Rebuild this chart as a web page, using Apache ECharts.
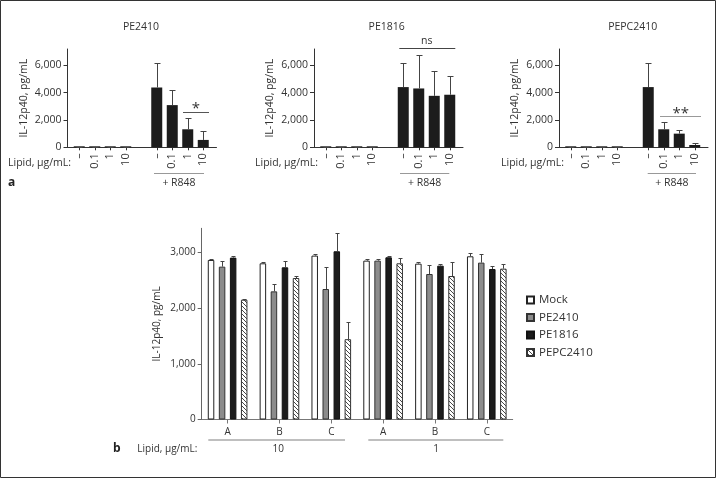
<!DOCTYPE html>
<html>
<head>
<meta charset="utf-8">
<script src="https://cdn.jsdelivr.net/npm/echarts@6/dist/echarts.min.js"></script>
<style>
  html, body { margin: 0; padding: 0; background: #fff; }
  #main { width: 716px; height: 478px; }
</style>
</head>
<body>
<div id="main"></div>
<script>
// ---- panel a data: 4 lipid doses alone, then the same 4 doses + R848 ----
var lipidDoses = ['–', '0.1', '1', '10'];
var pe2410Mean   = [25, 25, 25, 25, 4380, 3090, 1320, 540];
var pe2410Err    = [25, 25, 25, 25, 1800, 1120, 860, 640];
var pe1816Mean   = [25, 25, 25, 25, 4410, 4310, 3770, 3850];
var pe1816Err    = [25, 25, 25, 25, 1770, 2430, 1840, 1390];
var pepc2410Mean = [25, 25, 25, 25, 4410, 1320, 1000, 170];
var pepc2410Err  = [25, 25, 25, 25, 1770, 560, 270, 120];
var yTicksA = [0, 2000, 4000, 6000];

// ---- panel b data ----
var groupsB = ['A', 'B', 'C', 'A', 'B', 'C'];
var seriesNamesB = ['Mock', 'PE2410', 'PE1816', 'PEPC2410'];
var mockMean   = [2862, 2802, 2940, 2850, 2796, 2928];
var mockErr    = [18, 24, 36, 24, 30, 54];
var pe2410BMean = [2742, 2299, 2341, 2850, 2610, 2814];
var pe2410BErr  = [102, 131, 389, 24, 168, 156];
var pe1816BMean = [2904, 2730, 3018, 2910, 2760, 2700];
var pe1816BErr  = [30, 120, 330, 24, 24, 60];
var pepcBMean   = [2149, 2538, 1441, 2802, 2574, 2706];
var pepcBErr    = [12, 36, 312, 96, 252, 84];
var yTicksB = [0, 1000, 2000, 3000];

var FONT = '"Open Sans", "Noto Sans", sans-serif';
var TXT = '#333';

function fmt(v) { return String(v).replace(/\B(?=(\d{3})+(?!\d))/g, ','); }

// 4 doses, empty spacer, 4 doses
var catsA = lipidDoses.concat(['']).concat(lipidDoses);
function withGap(arr) { return arr.slice(0, 4).concat([null]).concat(arr.slice(4)); }
function errData(mean, err) {
  var out = [];
  withGap(mean).forEach(function (m, i) {
    if (m == null) return;
    var j = i < 4 ? i : i - 1;
    out.push([i, m, err[j]]);
  });
  return out;
}

function errRender(offset, capW) {
  return function (params, api) {
    var x = api.value(0), y = api.value(1), e = api.value(2);
    var p0 = api.coord([x, y]);
    var p1 = api.coord([x, y + e]);
    var cx = Math.round(p0[0] + offset) + 0.5;
    var ty = Math.round(p1[1]) + 0.5;
    var st = { stroke: '#444', lineWidth: 1 };
    return {
      type: 'group',
      children: [
        { type: 'line', shape: { x1: cx, y1: p0[1], x2: cx, y2: ty }, style: st },
        { type: 'line', shape: { x1: cx - capW / 2, y1: ty, x2: cx + capW / 2, y2: ty }, style: st }
      ]
    };
  };
}

function hatch() {
  var c = document.createElement('canvas');
  c.width = 4; c.height = 4;
  var g = c.getContext('2d');
  g.fillStyle = '#fff'; g.fillRect(0, 0, 4, 4);
  g.strokeStyle = '#333'; g.lineWidth = 0.9;
  g.beginPath();
  g.moveTo(0, 0); g.lineTo(4, 4);
  g.moveTo(3, -1); g.lineTo(5, 1);
  g.moveTo(-1, 3); g.lineTo(1, 5);
  g.stroke();
  return c;
}

var grids = [], xAxes = [], yAxes = [], series = [], graphics = [];

var panelA = [
  { name: 'PE2410', mean: pe2410Mean, err: pe2410Err },
  { name: 'PE1816', mean: pe1816Mean, err: pe1816Err },
  { name: 'PEPC2410', mean: pepc2410Mean, err: pepc2410Err }
];
var axisXs = [67.5, 314, 559];
var topA = 49, hA = 98.3, maxA = 7200;

panelA.forEach(function (p, k) {
  var x0 = axisXs[k];
  var gf = grids.length;
  // frame grid: axis lines and y labels
  grids.push({ left: x0, top: topA, width: 149, height: hA, outerBoundsMode: 'none' });
  xAxes.push({ gridIndex: gf, type: 'value', min: 0, max: 1,
    axisLine: { show: true, lineStyle: { color: '#333' } },
    axisTick: { show: false }, axisLabel: { show: false }, splitLine: { show: false } });
  yAxes.push({ gridIndex: gf, type: 'value', min: 0, max: maxA,
    name: 'IL-12p40, pg/mL', nameLocation: 'middle', nameGap: 38,
    nameTextStyle: { fontSize: 10.5, color: TXT, fontFamily: FONT },
    axisLine: { show: true, lineStyle: { color: '#333' } },
    axisTick: { show: true, length: 4, customValues: yTicksA, lineStyle: { color: '#333' } },
    axisLabel: { customValues: yTicksA, formatter: fmt, margin: 6, fontSize: 10.5, color: TXT, fontFamily: FONT },
    splitLine: { show: false } });
  // bar grid
  var gb = grids.length;
  grids.push({ left: x0 + 4, top: topA, width: 139.5, height: hA, outerBoundsMode: 'none' });
  xAxes.push({ gridIndex: gb, type: 'category', data: catsA,
    axisLine: { show: false },
    axisTick: { show: true, alignWithLabel: true, length: 3, lineStyle: { color: '#333' },
      interval: function (i, v) { return v !== ''; } },
    axisLabel: { rotate: 90, interval: 0, margin: 6, fontSize: 11, color: TXT, fontFamily: FONT } });
  yAxes.push({ gridIndex: gb, type: 'value', min: 0, max: maxA, show: false });
  series.push({ type: 'bar', xAxisIndex: gb, yAxisIndex: gb, data: withGap(p.mean),
    barWidth: 11, barMinHeight: 1, itemStyle: { color: '#1c1c1c' }, silent: true });
  series.push({ type: 'custom', xAxisIndex: gb, yAxisIndex: gb, z: 3,
    data: errData(p.mean, p.err), renderItem: errRender(0, 6), silent: true });
});

// ---- panel b ----
var gB = grids.length;
grids.push({ left: 201.7, top: 228.3, width: 311, height: 191.2, outerBoundsMode: 'none' });
xAxes.push({ gridIndex: gB, type: 'category', data: groupsB,
  axisLine: { show: true, lineStyle: { color: '#777' } },
  axisTick: { show: true, alignWithLabel: true, length: 4, lineStyle: { color: '#777' } },
  axisLabel: { margin: 8, fontSize: 10, color: TXT, fontFamily: FONT } });
yAxes.push({ gridIndex: gB, type: 'value', min: 0, max: 3430,
  name: 'IL-12p40, pg/mL', nameLocation: 'middle', nameGap: 40,
  nameTextStyle: { fontSize: 10, color: TXT, fontFamily: FONT },
  axisLine: { show: true, lineStyle: { color: '#666' } },
  axisTick: { show: true, length: 4, customValues: yTicksB, lineStyle: { color: '#666' } },
  axisLabel: { customValues: yTicksB, formatter: fmt, margin: 6, fontSize: 10, color: TXT, fontFamily: FONT },
  splitLine: { show: false } });

var bMeans = [mockMean, pe2410BMean, pe1816BMean, pepcBMean];
var bErrs = [mockErr, pe2410BErr, pe1816BErr, pepcBErr];
var bFills = ['#ffffff', '#8c8c8c', '#1c1c1c', { image: hatch(), repeat: 'repeat' }];
var bBorders = ['#222', '#333', '#111', '#333'];
var barW = 6.5, gapRatio = 0.7;
bMeans.forEach(function (m, k) {
  series.push({ name: seriesNamesB[k], type: 'bar', xAxisIndex: gB, yAxisIndex: gB, data: m,
    barWidth: barW, barGap: (gapRatio * 100) + '%',
    itemStyle: { color: bFills[k], borderColor: bBorders[k], borderWidth: 1 }, silent: true });
  var off = (k - 1.5) * barW * (1 + gapRatio);
  series.push({ type: 'custom', xAxisIndex: gB, yAxisIndex: gB, z: 3,
    data: m.map(function (v, i) { return [i, v, bErrs[k][i]]; }),
    renderItem: errRender(off, 4), silent: true });
});

// ---- annotations ----
function txt(s, x, y, opt) {
  opt = opt || {};
  return { type: 'text', x: x, y: y, silent: true,
    style: { text: s, fill: opt.color || TXT, fontSize: opt.size || 10.5, fontFamily: FONT,
      fontWeight: opt.weight || 'normal',
      align: opt.align || 'center', textAlign: opt.align || 'center',
      verticalAlign: 'middle', textVerticalAlign: 'middle' } };
}
function ln(x1, y1, x2, y2, color, w) {
  return { type: 'line', silent: true, shape: { x1: x1, y1: y1, x2: x2, y2: y2 },
    style: { stroke: color || '#999', lineWidth: w || 1 } };
}

graphics.push({ type: 'rect', silent: true, shape: { x: 0.5, y: 0.5, width: 715, height: 477 },
  style: { fill: 'none', stroke: '#333', lineWidth: 1 } });

var titleXs = [141, 386.7, 632.7];
var lipidXs = [8, 255, 501];
var r848 = [[154, 204], [400, 449.3], [647.7, 696]];
panelA.forEach(function (p, k) {
  graphics.push(txt(p.name, titleXs[k], 27));
  graphics.push(txt('Lipid, µg/mL:', lipidXs[k], 162.7, { align: 'left' }));
  graphics.push(ln(r848[k][0], 173.5, r848[k][1], 173.5, '#999'));
  graphics.push(txt('+ R848', (r848[k][0] + r848[k][1]) / 2, 183));
});
graphics.push(txt('a', 8, 183, { align: 'left', weight: 'bold', size: 12, color: '#222' }));

graphics.push(ln(183, 112.5, 209, 112.5, '#555'));
graphics.push(txt('*', 196, 109, { size: 15 }));
graphics.push(ln(399.3, 48.5, 455.3, 48.5, '#444'));
graphics.push(txt('ns', 426.7, 41));
graphics.push(ln(660, 116.5, 701, 116.5, '#999'));
graphics.push(txt('**', 680.7, 114, { size: 15 }));

graphics.push(ln(208.3, 440, 345, 440, '#aaa', 1.5));
graphics.push(ln(368.3, 440, 503.3, 440, '#aaa', 1.5));
graphics.push(txt('10', 278.3, 449.5, { size: 10 }));
graphics.push(txt('1', 436, 449.5, { size: 10 }));
graphics.push(txt('Lipid, µg/mL:', 137.3, 449.5, { align: 'left', size: 10 }));
graphics.push(txt('b', 113, 448.5, { align: 'left', weight: 'bold', size: 12, color: '#222' }));

var myChart = echarts.init(document.getElementById('main'));
myChart.setOption({
  backgroundColor: '#fff',
  animation: false,
  textStyle: { fontFamily: FONT },
  grid: grids,
  xAxis: xAxes,
  yAxis: yAxes,
  legend: {
    data: seriesNamesB, orient: 'vertical', left: 521, top: 289,
    itemWidth: 7, itemHeight: 7, itemGap: 5.5, icon: 'rect',
    textStyle: { fontSize: 11.5, color: TXT, fontFamily: FONT }, selectedMode: false
  },
  series: series,
  graphic: graphics
});
</script>
</body>
</html>
